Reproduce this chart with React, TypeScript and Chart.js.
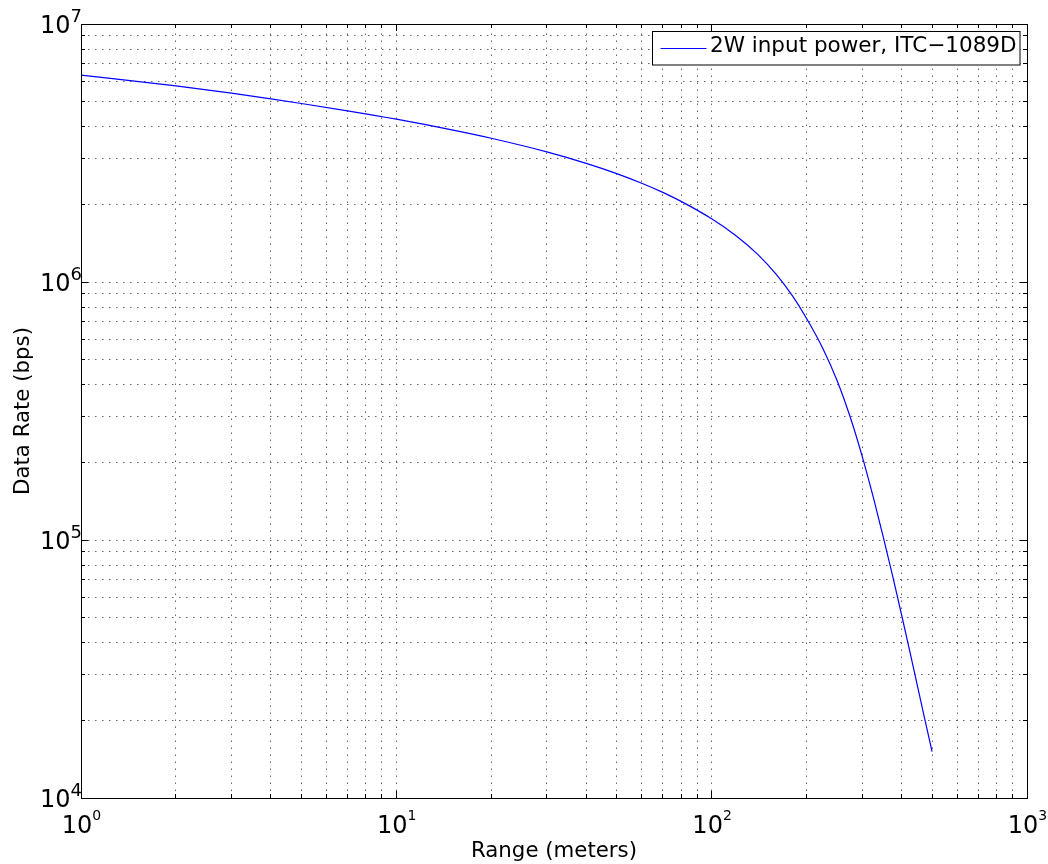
import React, { useEffect, useRef } from 'react';
import { Chart, registerables } from 'chart.js';

Chart.register(...registerables);

// ---- data ----
const rangeMeters = [1, 2, 3, 4, 5, 7, 10, 15, 20, 30, 40, 50, 60, 70, 80, 100, 120, 140, 160, 180, 200, 225, 250, 275, 300, 325, 350, 375, 400, 425, 450, 475, 500];
const dataRateBps = [6.339e6, 5.754e6, 5.395e6, 5.129e6, 4.92e6, 4.608e6, 4.276e6, 3.887e6, 3.607e6, 3.194e6, 2.884e6, 2.632e6, 2.415e6, 2.226e6, 2.054e6, 1.758e6, 1.505e6, 1.28e6, 1.073e6, 8.869e5, 7.22e5, 5.537e5, 4.143e5, 2.996e5, 2.115e5, 1.475e5, 1.029e5, 7.238e4, 5.143e4, 3.698e4, 2.694e4, 2.0e4, 1.512e4];
const xTickExponents = [0, 1, 2, 3];
const yTickExponents = [4, 5, 6, 7];
const minorMultipliers = [2, 3, 4, 5, 6, 7, 8, 9];
const seriesLabel = '2W input power, ITC\u22121089D';
const xTitle = 'Range (meters)';
const yTitle = 'Data Rate (bps)';

const FAMILY = '"DejaVu Sans", "Liberation Sans", sans-serif';

function gridValues(exps: number[]) {
  const out: { v: number; major: boolean }[] = [];
  for (let i = 0; i < exps.length; i++) {
    const base = Math.pow(10, exps[i]);
    out.push({ v: base, major: true });
    if (i < exps.length - 1) {
      for (const m of minorMultipliers) out.push({ v: m * base, major: false });
    }
  }
  return out;
}

const mplPlugin = {
  id: 'mplStyle',
  beforeDatasetsDraw(chart: any) {
    const { ctx, chartArea: a, scales } = chart;
    const xs = scales.x;
    const ys = scales.y;
    ctx.save();
    ctx.strokeStyle = 'rgba(0,0,0,0.6)';
    ctx.lineWidth = 1;
    ctx.setLineDash([1.5, 5.5]);
    for (const g of gridValues(xTickExponents)) {
      const px = Math.floor(xs.getPixelForValue(g.v)) + 0.5;
      if (px <= a.left + 1 || px >= a.right - 1) continue;
      ctx.beginPath();
      ctx.moveTo(px, a.bottom);
      ctx.lineTo(px, a.top);
      ctx.stroke();
    }
    for (const g of gridValues(yTickExponents)) {
      const py = Math.floor(ys.getPixelForValue(g.v)) + 0.5;
      if (py <= a.top + 1 || py >= a.bottom - 1) continue;
      ctx.beginPath();
      ctx.moveTo(a.left, py);
      ctx.lineTo(a.right, py);
      ctx.stroke();
    }
    ctx.restore();
  },
  afterDraw(chart: any) {
    const { ctx, chartArea: a, scales } = chart;
    const xs = scales.x;
    const ys = scales.y;
    ctx.save();
    ctx.setLineDash([]);
    ctx.strokeStyle = '#000';
    ctx.lineWidth = 1;
    // spines
    ctx.strokeRect(a.left + 0.5, a.top + 0.5, a.right - a.left, a.bottom - a.top);
    // inward ticks on all sides
    for (const g of gridValues(xTickExponents)) {
      const px = Math.floor(xs.getPixelForValue(g.v)) + 0.5;
      const len = g.major ? 7 : 4;
      ctx.beginPath();
      ctx.moveTo(px, a.bottom);
      ctx.lineTo(px, a.bottom - len);
      ctx.moveTo(px, a.top);
      ctx.lineTo(px, a.top + len);
      ctx.stroke();
    }
    for (const g of gridValues(yTickExponents)) {
      const py = Math.floor(ys.getPixelForValue(g.v)) + 0.5;
      const len = g.major ? 7 : 4;
      ctx.beginPath();
      ctx.moveTo(a.left, py);
      ctx.lineTo(a.left + len, py);
      ctx.moveTo(a.right, py);
      ctx.lineTo(a.right - len, py);
      ctx.stroke();
    }
    // tick labels
    ctx.fillStyle = '#000';
    ctx.textBaseline = 'alphabetic';
    ctx.textAlign = 'left';
    const baseFont = '24px ' + FAMILY;
    ctx.font = baseFont;
    const baseW = ctx.measureText('10').width;
    for (const e of yTickExponents) {
      const py = ys.getPixelForValue(Math.pow(10, e));
      const x0 = 40;
      ctx.font = baseFont;
      ctx.fillText('10', x0, py + 9);
      ctx.font = '18px ' + FAMILY;
      ctx.fillText(String(e), x0 + baseW, py - 1.7);
    }
    for (const e of xTickExponents) {
      const px = xs.getPixelForValue(Math.pow(10, e));
      const x0 = px - 19.3;
      ctx.font = baseFont;
      ctx.fillText('10', x0, a.bottom + 35);
      ctx.font = '14px ' + FAMILY;
      ctx.fillText(String(e), x0 + baseW, a.bottom + 22);
    }
    // axis titles
    ctx.font = '21.3px ' + FAMILY;
    ctx.textAlign = 'center';
    ctx.fillText(xTitle, (a.left + a.right) / 2, 856.5);
    ctx.save();
    ctx.translate(28.5, (a.top + a.bottom) / 2);
    ctx.rotate(-Math.PI / 2);
    ctx.fillText(yTitle, 0, 0);
    ctx.restore();
    // legend
    const bx = 652.5, by = 31.5, bw = 367.5, bh = 33.5;
    ctx.fillStyle = '#fff';
    ctx.fillRect(bx, by, bw, bh);
    ctx.strokeStyle = '#000';
    ctx.strokeRect(bx, by, bw, bh);
    ctx.strokeStyle = '#0000ff';
    ctx.lineWidth = 1.2;
    ctx.beginPath();
    ctx.moveTo(660.5, 48.5);
    ctx.lineTo(706.5, 48.5);
    ctx.stroke();
    ctx.fillStyle = '#000';
    ctx.textAlign = 'left';
    ctx.font = '21.5px ' + FAMILY;
    ctx.fillText(seriesLabel, 710, 51.5);
    ctx.restore();
  },
};

export default function App() {
  const canvasRef = useRef<HTMLCanvasElement | null>(null);

  useEffect(() => {
    if (!canvasRef.current) return;
    const points = rangeMeters.map((r, i) => ({ x: r, y: dataRateBps[i] }));
    const chart = new Chart(canvasRef.current, {
      type: 'line',
      data: {
        datasets: [
          {
            label: seriesLabel,
            data: points,
            borderColor: '#0000ff',
            borderWidth: 1.2,
            pointRadius: 0,
            fill: false,
            cubicInterpolationMode: 'monotone',
          },
        ],
      },
      options: {
        responsive: false,
        animation: false,
        devicePixelRatio: 1,
        layout: { padding: { top: 24, right: 21, left: 0, bottom: 0 } },
        plugins: {
          legend: { display: false },
          tooltip: { enabled: false },
          title: { display: false },
        },
        scales: {
          x: {
            type: 'logarithmic',
            position: 'bottom',
            min: 1,
            max: 1000,
            grid: { display: false },
            border: { display: false },
            ticks: { display: false },
            afterFit: (scale: any) => {
              scale.height = 66;
            },
          },
          y: {
            type: 'logarithmic',
            position: 'left',
            min: 1e4,
            max: 1e7,
            grid: { display: false },
            border: { display: false },
            ticks: { display: false },
            afterFit: (scale: any) => {
              scale.width = 81;
            },
          },
        },
      } as any,
      plugins: [mplPlugin],
    });
    return () => chart.destroy();
  }, []);

  return (
    <div style={{ position: 'fixed', left: 0, top: 0, width: 1048, height: 864, background: '#fff' }}>
      <canvas ref={canvasRef} width={1048} height={864} style={{ display: 'block', width: 1048, height: 864 }} />
    </div>
  );
}
